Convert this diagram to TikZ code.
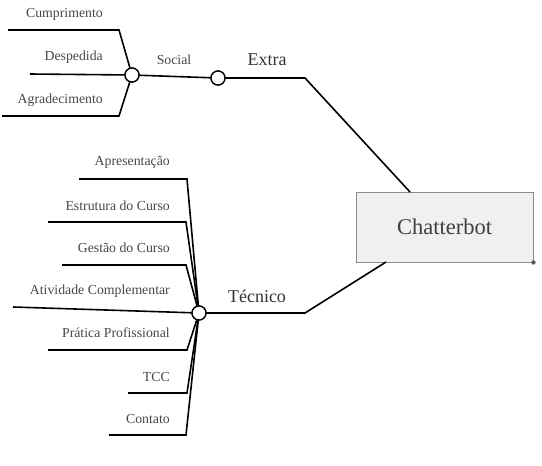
\documentclass[tikz,border=0pt]{standalone}
\usepackage{fontspec}
\setmainfont{Liberation Serif}
\begin{document}
\begin{tikzpicture}[x=1pt,y=-1pt,
  conn/.style={line width=1.6pt,black},
  hub/.style={circle,draw=black,line width=1.3pt,fill=white,inner sep=0pt,minimum size=14pt},
  lbl/.style={text=black!72,font=\fontsize{13.8}{15}\selectfont,inner sep=0pt},
  big/.style={text=black!80,font=\fontsize{18}{20}\selectfont,inner sep=0pt},
  box/.style={draw=black!45,line width=0.9pt,fill=black!6,minimum width=177pt,minimum height=70pt,text=black!75,font=\fontsize{22.5}{25}\selectfont}]
\useasboundingbox (0,0) rectangle (542,466);
% hubs
\node[box] (c) at (444.5,227) {Chatterbot};
\fill[black!65] (c.south east) circle (2.2pt);
\node[hub] (s1) at (132,75) {};
\node[hub] (s2) at (218,78) {};
\node[hub] (t) at (199,313) {};
% coordinates
\coordinate (e1) at (305,78);
\coordinate (ctop) at (410,192);
\coordinate (cbot) at (386,262);
\coordinate (t1) at (305,313);
\coordinate (a0) at (8,30);   \coordinate (a1) at (119,30);
\coordinate (b0) at (30,74);
\coordinate (d0) at (2,116);  \coordinate (d1) at (119,116);
% social branch
\draw[conn] (a0) -- (a1) -- (s1);
\draw[conn] (b0) -- (s1);
\draw[conn] (d0) -- (d1) -- (s1);
\draw[conn] (s1) -- (s2);
\draw[conn] (s2) -- (e1) -- (ctop);
% tecnico branch
\draw[conn] (cbot) -- (t1) -- (t);
\coordinate (p0) at (79,179);  \coordinate (p1) at (187,179);
\coordinate (q0) at (48,222);  \coordinate (q1) at (186,222);
\coordinate (r0) at (62,265);  \coordinate (r1) at (186,265);
\coordinate (u0) at (13,307);
\coordinate (v0) at (48,350);  \coordinate (v1) at (187,350);
\coordinate (w0) at (128,393); \coordinate (w1) at (187,393);
\coordinate (z0) at (109,435); \coordinate (z1) at (186,435);
\draw[conn] (p0) -- (p1) -- (t);
\draw[conn] (q0) -- (q1) -- (t);
\draw[conn] (r0) -- (r1) -- (t);
\draw[conn] (u0) -- (t);
\draw[conn] (v0) -- (v1) -- (t);
\draw[conn] (w0) -- (w1) -- (t);
\draw[conn] (z0) -- (z1) -- (t);
\node[hub] at (s1) {};
\node[hub] at (s2) {};
\node[hub] at (t) {};
% labels
\node[lbl,anchor=east] (l1) at (103,14) {Cumprimento};
\node[lbl,anchor=east] (l2) at (103,57) {Despedida};
\node[lbl,anchor=east] (l3) at (103,100) {Agradecimento};
\node[lbl] (l4) at (174,60) {Social};
\node[big] (l5) at (267,60) {Extra};
\node[big] (l6) at (257,296) {Técnico};
\node[lbl,anchor=east] (m1) at (170,162) {Apresentação};
\node[lbl,anchor=east] (m2) at (170,206) {Estrutura do Curso};
\node[lbl,anchor=east] (m3) at (170,248) {Gestão do Curso};
\node[lbl,anchor=east] (m4) at (170,291) {Atividade Complementar};
\node[lbl,anchor=east] (m5) at (170,333) {Prática Profissional};
\node[lbl,anchor=east] (m6) at (170,377) {TCC};
\node[lbl,anchor=east] (m7) at (170,419) {Contato};
\end{tikzpicture}
\end{document}
